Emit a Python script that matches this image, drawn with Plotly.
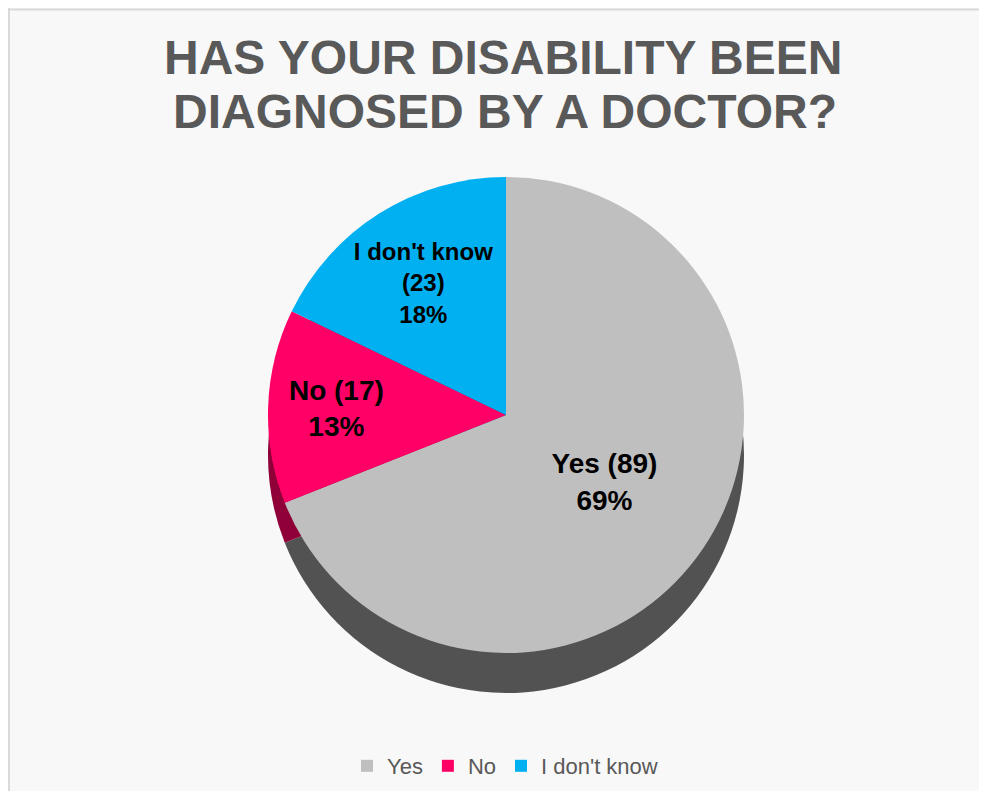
import plotly.graph_objects as go

# ---- data ----
labels = ["Yes", "No", "I don't know"]
counts = [89, 17, 23]
percent_labels = ["69%", "13%", "18%"]
title_lines = ["HAS YOUR DISABILITY BEEN", "DIAGNOSED BY A DOCTOR?"]

# ---- styles ----
top_colors = ["#BFBFBF", "#FF0066", "#00B0F0"]
side_colors = ["#525252", "#8F0039", "#006A90"]
FONT = "Arial, 'Liberation Sans', sans-serif"
OFF = 8                                # page body margin on every side
W, H = 987 - 2 * OFF, 799 - 2 * OFF    # figure size so the page fits the window


def px_x(x):
    return (x - OFF) / W


def px_y(y):
    return 1 - (y - OFF) / H


# top face geometry (window pixels)
cx, cy, r = 506, 415, 238
depth = 40

text = [f"{l} ({c})<br>{p}" if l != "I don't know" else f"{l}<br>({c})<br>{p}"
        for l, c, p in zip(labels, counts, percent_labels)]

fig = go.Figure()

# side (depth) of the pie: same data, shifted down
fig.add_trace(go.Pie(
    labels=labels, values=counts, sort=False, direction="clockwise", rotation=0,
    marker=dict(colors=side_colors, line=dict(width=0)),
    textinfo="none", hoverinfo="skip", showlegend=False,
    domain=dict(x=[px_x(cx - r), px_x(cx + r)], y=[px_y(cy + r + depth), px_y(cy - r + depth)]),
))

# top face
fig.add_trace(go.Pie(
    labels=labels, values=counts, sort=False, direction="clockwise", rotation=0,
    marker=dict(colors=top_colors, line=dict(width=0)),
    text=text, texttemplate="%{text}", textposition="inside",
    insidetextorientation="horizontal",
    insidetextfont=dict(family=FONT, size=28, color="#000000", weight="bold"),
    hovertemplate="%{label}: %{value} (%{percent})<extra></extra>",
    domain=dict(x=[px_x(cx - r), px_x(cx + r)], y=[px_y(cy + r), px_y(cy - r)]),
))

annotations = [
    dict(text=title_lines[0], x=px_x(503), y=px_y(57), xref="paper", yref="paper",
         xanchor="center", yanchor="middle", showarrow=False,
         font=dict(family=FONT, size=48, color="#595959", weight="bold")),
    dict(text=title_lines[1], x=px_x(505), y=px_y(112), xref="paper", yref="paper",
         xanchor="center", yanchor="middle", showarrow=False,
         font=dict(family=FONT, size=48, color="#595959", weight="bold")),
]

border = dict(color="#D9D9D9", width=2)
fig.update_layout(
    width=W, height=H,
    margin=dict(l=0, r=0, t=0, b=0),
    paper_bgcolor="#F8F8F8",
    annotations=annotations,
    shapes=[
        dict(type="line", xref="paper", yref="paper", x0=0.001, x1=0.001, y0=0, y1=1,
             line=border, layer="below"),
        dict(type="line", xref="paper", yref="paper", x0=0, x1=1, y0=0.998, y1=0.998,
             line=border, layer="below"),
    ],
    legend=dict(orientation="h", x=px_x(505), xanchor="center", y=px_y(766), yanchor="middle",
                font=dict(family=FONT, size=22, color="#595959"),
                itemwidth=30, tracegroupgap=0, bgcolor="rgba(0,0,0,0)"),
)

fig.write_html("out.html")
